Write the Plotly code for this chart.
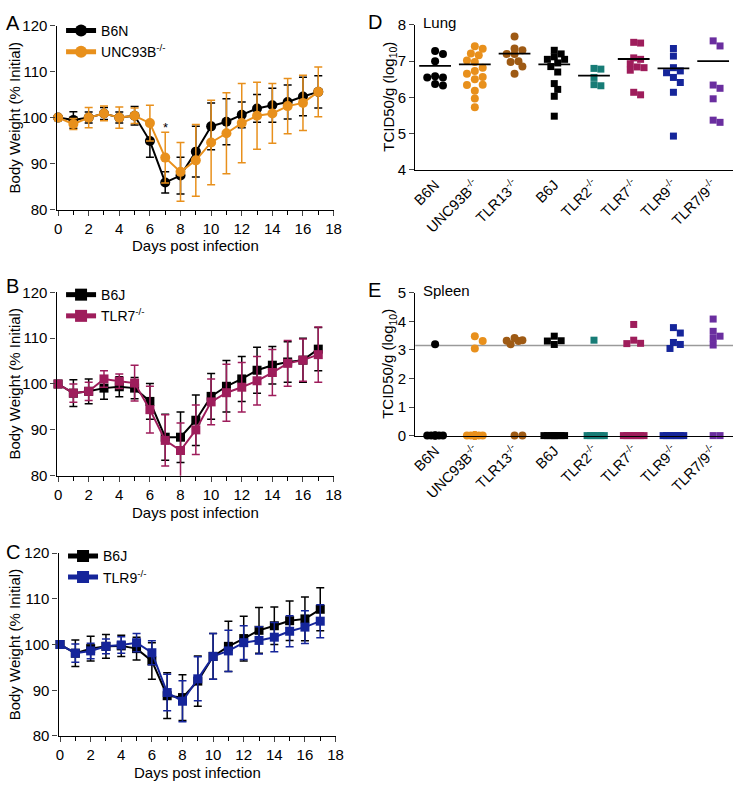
import plotly.graph_objects as go

# ---------------- data ----------------
days = list(range(18))

wt_b6n = [100, 99.5, 100, 100.9, 100, 100.4, 94.9, 85.9, 87.4, 92.6, 98.1, 99.1, 100.6, 102.0, 102.7, 103.4, 104.6, 105.6]
sd_b6n = [0, 1.8, 1.2, 1.3, 1.2, 2.0, 3.5, 2.3, 4.0, 5.5, 5.1, 5.0, 2.8, 3.0, 3.7, 3.7, 4.2, 3.5]
wt_unc = [100, 98.6, 100, 100.9, 100, 100.4, 98.8, 91.3, 88.2, 90.7, 94.6, 96.6, 98.8, 100.4, 100.9, 102.5, 103.2, 105.6]
sd_unc = [0, 1.2, 2.2, 1.6, 2.3, 1.7, 3.9, 5.5, 6.4, 7.8, 9.2, 8.8, 8.6, 7.3, 6.5, 6.0, 6.0, 5.4]

wt_b6j_b = [100, 98, 98.4, 99.1, 99.4, 99.1, 96.2, 88.4, 88.4, 92.1, 97.3, 99.5, 101.1, 103.0, 104.1, 104.8, 105.2, 107.6]
sd_b6j_b = [0, 2.9, 2.7, 2.4, 2.2, 2.3, 3.9, 5.0, 5.5, 5.5, 5.0, 5.6, 4.9, 5.0, 4.1, 4.4, 4.8, 4.7]
wt_tlr7 = [100, 98, 98.4, 101.1, 100.6, 100.2, 94.4, 87.7, 85.5, 90.0, 96.1, 98.1, 99.3, 100.7, 102.5, 104.5, 105.2, 106.4]
sd_tlr7 = [0, 2.0, 2.0, 1.8, 1.6, 3.9, 5.1, 5.6, 6.0, 5.4, 5.0, 6.2, 5.4, 5.3, 5.0, 5.0, 4.6, 6.0]

wt_b6j_c = [100, 98.1, 99.1, 99.6, 99.7, 99.1, 96.4, 88.8, 88.4, 92.0, 97.4, 99.6, 101.3, 103.1, 104.1, 105.2, 105.6, 107.7]
sd_b6j_c = [0, 2.9, 2.7, 2.6, 2.3, 2.5, 4.0, 5.0, 5.0, 5.5, 5.0, 5.5, 4.9, 5.0, 4.1, 4.3, 4.8, 4.7]
wt_tlr9 = [100, 98.1, 98.6, 99.6, 99.9, 100.4, 98.2, 89.5, 87.6, 92.5, 97.4, 98.6, 100.4, 100.9, 101.6, 102.9, 103.8, 105.1]
sd_tlr9 = [0, 2.0, 1.7, 1.6, 1.8, 2.0, 2.6, 4.0, 4.5, 4.8, 5.0, 4.5, 3.7, 3.0, 3.2, 3.4, 3.6, 3.6]

groups = ["B6N", "UNC93B<sup>-/-</sup>", "TLR13<sup>-/-</sup>", "B6J", "TLR2<sup>-/-</sup>",
          "TLR7<sup>-/-</sup>", "TLR9<sup>-/-</sup>", "TLR7/9<sup>-/-</sup>"]

lung_values = [
    [7.2, 7.28, 7.0, 6.55, 6.58, 6.55, 6.33, 6.37],
    [7.41, 7.34, 7.21, 7.16, 7.02, 6.98, 6.82, 6.73, 6.65, 6.56, 6.5, 6.34, 6.35, 6.18, 5.97, 5.73],
    [7.68, 7.3, 7.35, 7.2, 7.2, 7.0, 6.98, 6.85, 6.65],
    [7.3, 7.2, 7.12, 7.05, 7.05, 6.95, 6.85, 6.7, 6.38, 6.22, 6.03, 5.48],
    [6.8, 6.78, 6.55, 6.32, 6.35],
    [7.52, 7.5, 7.05, 7.09, 6.93, 6.84, 6.82, 6.75, 6.07, 6.14],
    [7.35, 7.14, 6.82, 6.73, 6.68, 6.55, 6.41, 6.14, 4.93],
    [7.56, 7.42, 6.25, 6.34, 5.96, 5.31, 5.37],
]
lung_lines = [6.87, 6.91, 7.21, 6.91, 6.6, 7.06, 6.8, 7.0]

spleen_values = [
    [3.2, 0, 0, 0, 0, 0, 0, 0],
    [3.31, 3.48, 3.05, 0, 0, 0, 0, 0, 0, 0, 0, 0, 0, 0, 0],
    [3.31, 3.34, 3.2, 3.42, 3.32, 0, 0],
    [3.31, 3.48, 3.32, 3.19, 0, 0, 0, 0, 0, 0, 0, 0],
    [3.34, 0, 0, 0, 0, 0, 0],
    [3.23, 3.89, 3.22, 3.34, 0, 0, 0, 0, 0, 0, 0],
    [3.19, 3.59, 3.05, 3.78, 3.26, 0, 0, 0, 0, 0, 0, 0],
    [3.4, 4.08, 3.65, 3.17, 3.48, 0, 0],
]
spleen_lod = 3.15

# ---------------- styling ----------------
W, H = 742, 789
FONT = "Arial, Liberation Sans, sans-serif"
BLACK = "#000000"
ORANGE = "#E8901C"
BROWN = "#9E5A14"
TEAL = "#177C76"
MAGENTA = "#9E1D5B"
NAVY = "#15259A"
PURPLE = "#6A2E9F"
group_colors = [BLACK, ORANGE, BROWN, BLACK, TEAL, MAGENTA, NAVY, PURPLE]
group_symbols = ["circle", "circle", "circle", "square", "square", "square", "square", "square"]


def fx(px):
    return px / W


def fy(py):
    return 1 - py / H


def swarm(vals, ppu, ppc, diam, maxw=0.28):
    n = len(vals)
    order = sorted(range(n), key=lambda i: -vals[i])
    step = diam * 0.5
    lim = maxw * ppc
    cands = [0.0]
    k = 1
    while k * step <= lim + 1e-9:
        cands += [k * step, -k * step]
        k += 1
    placed = []
    offs = [0.0] * n
    thr = (0.95 * diam) ** 2
    for i in order:
        y = vals[i] * ppu
        chosen = None
        for c in cands:
            if all((c - px) ** 2 + (y - py) ** 2 >= thr for px, py in placed):
                chosen = c
                break
        if chosen is None:
            chosen = max(cands, key=lambda c: min((c - px) ** 2 + (y - py) ** 2 for px, py in placed))
        placed.append((chosen, y))
        offs[i] = chosen / ppc
    return offs


fig = go.Figure()

# ---------------- weight panels ----------------
weight_panels = [
    ("x", "y", "legend", [("B6N", wt_b6n, sd_b6n, BLACK, "circle"),
                           ("UNC93B<sup>-/-</sup>", wt_unc, sd_unc, ORANGE, "circle")]),
    ("x2", "y2", "legend2", [("B6J", wt_b6j_b, sd_b6j_b, BLACK, "square"),
                              ("TLR7<sup>-/-</sup>", wt_tlr7, sd_tlr7, MAGENTA, "square")]),
    ("x3", "y3", "legend3", [("B6J", wt_b6j_c, sd_b6j_c, BLACK, "square"),
                              ("TLR9<sup>-/-</sup>", wt_tlr9, sd_tlr9, NAVY, "square")]),
]
for xa, ya, lg, series in weight_panels:
    for name, wt, sd, col, sym in series:
        fig.add_trace(go.Scatter(
            x=days, y=wt, mode="lines+markers", name=name,
            xaxis=xa, yaxis=ya, legend=lg,
            line=dict(color=col, width=2),
            marker=dict(color=col, size=10 if sym == "circle" else 9, symbol=sym),
            error_y=dict(type="data", array=sd, visible=True, color=col, thickness=1.5, width=4),
            cliponaxis=False,
        ))

# ---------------- lung / spleen panels ----------------
PPC = 40.4
for gi, (vals, line_v) in enumerate(zip(lung_values, lung_lines)):
    diam = 8 if group_symbols[gi] == "circle" else 7
    offs = swarm(vals, 37.0, PPC, diam)
    fig.add_trace(go.Scatter(
        x=[gi + o for o in offs], y=vals, mode="markers", showlegend=False,
        xaxis="x4", yaxis="y4",
        marker=dict(color=group_colors[gi], symbol=group_symbols[gi], size=diam, line=dict(width=0)),
        cliponaxis=False,
    ))
    fig.add_trace(go.Scatter(
        x=[gi - 0.4, gi + 0.4], y=[line_v, line_v], mode="lines", showlegend=False,
        xaxis="x4", yaxis="y4", line=dict(color="black", width=1.8),
    ))

for gi, vals in enumerate(spleen_values):
    diam = 8 if group_symbols[gi] == "circle" else 7
    offs = swarm(vals, 29.2, PPC, diam)
    fig.add_trace(go.Scatter(
        x=[gi + o for o in offs], y=vals, mode="markers", showlegend=False,
        xaxis="x5", yaxis="y5",
        marker=dict(color=group_colors[gi], symbol=group_symbols[gi], size=diam, line=dict(width=0)),
        cliponaxis=False,
    ))

fig.add_shape(type="line", xref="x5 domain", yref="y5", x0=0, x1=1, y0=spleen_lod, y1=spleen_lod,
              line=dict(color="#9a9a9a", width=1.5), layer="below")

# ---------------- axes ----------------
tickfont = dict(family=FONT, size=15, color="black")
common_x = dict(range=[-0.1, 18], tickmode="linear", tick0=0, dtick=2, ticks="outside", ticklen=5,
                tickwidth=1.3, showline=True, linecolor="black", linewidth=1.3, showgrid=False,
                zeroline=False, tickfont=tickfont,
                minor=dict(dtick=1, ticks="outside", ticklen=4, tickwidth=1.3, tickcolor="black", showgrid=False))
common_y = dict(range=[80, 120], tickmode="linear", tick0=80, dtick=10, ticks="outside", ticklen=5,
                tickwidth=1.3, showline=True, linecolor="black", linewidth=1.3, showgrid=False,
                zeroline=False, tickfont=tickfont)

layout_axes = {}
layout_axes["xaxis"] = dict(common_x, domain=[fx(53.4), fx(335)], anchor="y")
layout_axes["yaxis"] = dict(common_y, domain=[fy(205), fy(17)], anchor="x")
layout_axes["xaxis2"] = dict(common_x, domain=[fx(53.4), fx(335)], anchor="y2")
layout_axes["yaxis2"] = dict(common_y, domain=[fy(477), fy(289.5)], anchor="x2")
layout_axes["xaxis3"] = dict(common_x, domain=[fx(55.4), fx(337)], anchor="y3")
layout_axes["yaxis3"] = dict(common_y, domain=[fy(743), fy(556)], anchor="x3")

cat_x = dict(range=[-0.5, 7.5], tickmode="array", tickvals=list(range(8)), ticktext=groups,
             tickangle=-45, ticks="", showline=True, linecolor="black", linewidth=1.3,
             showgrid=False, zeroline=False, tickfont=dict(family=FONT, size=14.5, color="black"))
layout_axes["xaxis4"] = dict(cat_x, domain=[fx(418), fx(741)], anchor="y4")
layout_axes["yaxis4"] = dict(range=[4, 8], tickmode="linear", tick0=4, dtick=1, ticks="outside", ticklen=5,
                             tickwidth=1.3, showline=True, linecolor="black", linewidth=1.3, showgrid=False,
                             zeroline=False, tickfont=tickfont, domain=[fy(164.3), fy(16.3)], anchor="x4")
layout_axes["xaxis5"] = dict(cat_x, domain=[fx(418), fx(741)], anchor="y5")
layout_axes["yaxis5"] = dict(range=[0, 5], tickmode="linear", tick0=0, dtick=1, ticks="outside", ticklen=5,
                             tickwidth=1.3, showline=True, linecolor="black", linewidth=1.3, showgrid=False,
                             zeroline=False, tickfont=tickfont, domain=[fy(436), fy(290)], anchor="x5")

legend_common = dict(xanchor="left", yanchor="top", bgcolor="rgba(0,0,0,0)",
                     font=dict(family=FONT, size=14, color="black"), tracegroupgap=0,
                     itemsizing="constant")

fig.update_layout(
    width=W, height=H, margin=dict(l=0, r=0, t=0, b=0),
    paper_bgcolor="white", plot_bgcolor="white",
    font=dict(family=FONT, size=14, color="black"),
    legend=dict(legend_common, x=fx(58), y=fy(6)),
    legend2=dict(legend_common, x=fx(58), y=fy(276)),
    legend3=dict(legend_common, x=fx(60), y=fy(543)),
    **layout_axes,
)

# ---------------- annotations ----------------
def ann(text, px, py, size=14, angle=0, xanchor="center", yanchor="middle"):
    fig.add_annotation(text=text, x=fx(px), y=fy(py), xref="paper", yref="paper", showarrow=False,
                       textangle=angle, xanchor=xanchor, yanchor=yanchor,
                       font=dict(family=FONT, size=size, color="black"))

for letter, px, py in [("A", 9, 14), ("B", 9, 283), ("C", 9, 555), ("D", 377, 13), ("E", 377, 287)]:
    ann(letter, px, py, size=20)

for cy in [111, 383, 649.5]:
    ann("Body Weight (% Initial)", 11, cy, size=15, angle=-90)
for cy, cx in [(242, 195), (515, 195), (780, 197)]:
    ann("Days post infection", cx, cy, size=15)

ann("TCID50/g (log<sub>10</sub>)", 391, 90, size=15, angle=-90)
ann("TCID50/g (log<sub>10</sub>)", 391, 363, size=15, angle=-90)
ann("Lung", 424, 14, size=15, xanchor="left")
ann("Spleen", 424, 288, size=15, xanchor="left")

fig.add_annotation(text="*", x=7, y=97.8, xref="x", yref="y", showarrow=False,
                   font=dict(family=FONT, size=13, color="black"))

fig.write_html("out.html", config={"displayModeBar": False},
               post_script="document.body.style.margin='0';document.body.style.overflow='hidden';")
